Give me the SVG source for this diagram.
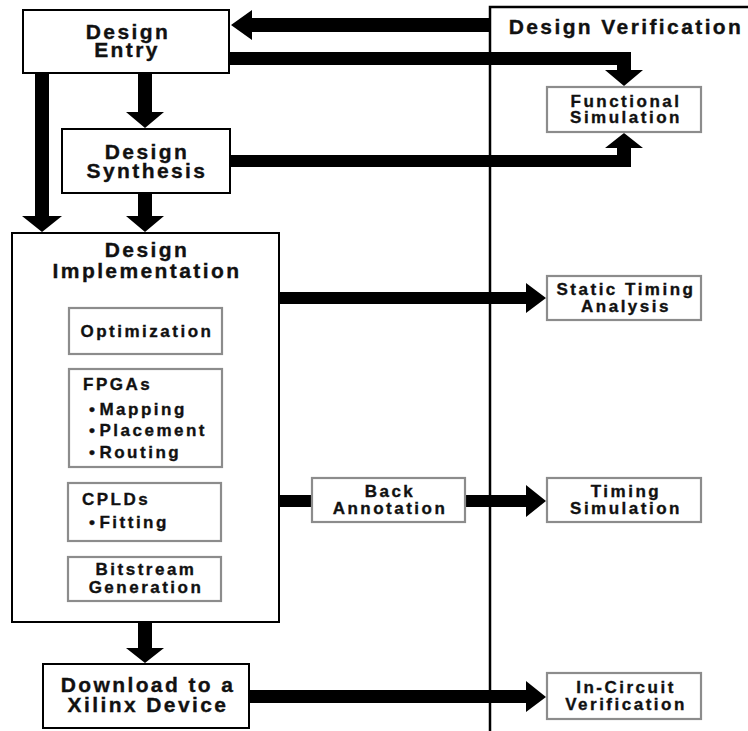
<svg xmlns="http://www.w3.org/2000/svg" width="748" height="731" viewBox="0 0 748 731">
  <style>
    .bg { fill: #ffffff; }
    .main { fill: #ffffff; stroke: #000000; stroke-width: 2; }
    .sub { fill: #ffffff; stroke: #8c8c8c; stroke-width: 2.2; }
    text { font-family: "Liberation Sans", Arial, sans-serif; font-weight: bold; fill: #111111; stroke: #111111; stroke-width: 0.35px; }
    .big { font-size: 21px; letter-spacing: 2.4px; text-anchor: middle; }
    .small { font-size: 17px; letter-spacing: 2.5px; text-anchor: middle; }
    .smallL { font-size: 17px; letter-spacing: 2.5px; }
    .arrow { fill: #000000; }
    .divider { fill: none; stroke: #000000; stroke-width: 2.5; }
  </style>
  <rect class="bg" x="0" y="0" width="748" height="731"/>

  <!-- verification column frame -->
  <g id="verification">
    <path class="divider" d="M490,731 V7 H748"/>
    <text class="big" x="626" y="34">Design Verification</text>
  </g>

  <!-- connectors -->
  <g id="connectors">
    <path class="arrow" d="M490,18 H252 V10 L231,25 L252,40 V32 H490 Z"/>
    <path class="arrow" d="M229,52 H631 V70 H643 L624,86 L605,70 H617 V65 H229 Z"/>
    <path class="arrow" d="M230,155 H617 V148 H605 L624,133 L643,148 H631 V167 H230 Z"/>
    <path class="arrow" d="M35,73 V216 H22 L42,232 L62,216 H49 V73 Z"/>
    <path class="arrow" d="M138,73 V112 H126 L145,128 L164,112 H152 V73 Z"/>
    <path class="arrow" d="M138,193 V216 H126 L145,232 L164,216 H152 V193 Z"/>
    <path class="arrow" d="M279,292 H526 V283 L546,298 L526,313 V304 H279 Z"/>
    <rect class="arrow" x="279" y="495" width="34" height="12"/>
    <path class="arrow" d="M465,495 H526 V485 L546,501 L526,517 V507 H465 Z"/>
    <path class="arrow" d="M138,622 V648 H126 L145,663 L164,648 H152 V622 Z"/>
    <path class="arrow" d="M249,690 H526 V681 L546,697 L526,712 V703 H249 Z"/>
  </g>

  <g id="design-entry">
    <rect class="main" x="23" y="10" width="206" height="63"/>
    <text class="big"><tspan x="128" y="39">Design</tspan><tspan x="127" y="57">Entry</tspan></text>
  </g>

  <g id="design-synthesis">
    <rect class="main" x="62" y="129" width="168" height="64"/>
    <text class="big"><tspan x="147" y="159">Design</tspan><tspan x="147" y="178">Synthesis</tspan></text>
  </g>

  <g id="design-implementation">
    <rect class="main" x="12" y="233" width="267" height="389"/>
    <text class="big"><tspan x="147" y="257">Design</tspan><tspan x="147" y="278">Implementation</tspan></text>
  </g>

  <g id="optimization">
    <rect class="sub" x="69" y="308" width="153" height="46"/>
    <text class="small" x="147" y="337">Optimization</text>
  </g>

  <g id="fpgas">
    <rect class="sub" x="69" y="369" width="153" height="98"/>
    <text class="smallL"><tspan x="83" y="390">FPGAs</tspan><tspan x="89" y="415">•</tspan><tspan dx="2">Mapping</tspan><tspan x="89" y="436">•</tspan><tspan dx="2">Placement</tspan><tspan x="89" y="458">•</tspan><tspan dx="2">Routing</tspan></text>
  </g>

  <g id="cplds">
    <rect class="sub" x="68" y="483" width="153" height="58"/>
    <text class="smallL"><tspan x="82" y="505">CPLDs</tspan><tspan x="89" y="528">•</tspan><tspan dx="2">Fitting</tspan></text>
  </g>

  <g id="bitstream">
    <rect class="sub" x="68" y="557" width="153" height="44"/>
    <text class="small"><tspan x="146" y="575">Bitstream</tspan><tspan x="146" y="593">Generation</tspan></text>
  </g>

  <g id="download">
    <rect class="main" x="43" y="664" width="206" height="64"/>
    <text class="big"><tspan x="148" y="692">Download to a</tspan><tspan x="148" y="712">Xilinx Device</tspan></text>
  </g>

  <g id="functional-simulation">
    <rect class="sub" x="547" y="87" width="154" height="45"/>
    <text class="small"><tspan x="626" y="107">Functional</tspan><tspan x="626" y="123">Simulation</tspan></text>
  </g>

  <g id="static-timing">
    <rect class="sub" x="547" y="276" width="154" height="44"/>
    <text class="small"><tspan x="626" y="295">Static Timing</tspan><tspan x="626" y="312">Analysis</tspan></text>
  </g>

  <g id="back-annotation">
    <rect class="sub" x="312" y="478" width="153" height="44"/>
    <text class="small"><tspan x="390" y="497">Back</tspan><tspan x="390" y="514">Annotation</tspan></text>
  </g>

  <g id="timing-simulation">
    <rect class="sub" x="547" y="478" width="154" height="44"/>
    <text class="small"><tspan x="626" y="497">Timing</tspan><tspan x="626" y="514">Simulation</tspan></text>
  </g>

  <g id="in-circuit">
    <rect class="sub" x="547" y="673" width="154" height="46"/>
    <text class="small"><tspan x="626" y="693">In-Circuit</tspan><tspan x="626" y="710">Verification</tspan></text>
  </g>
</svg>
